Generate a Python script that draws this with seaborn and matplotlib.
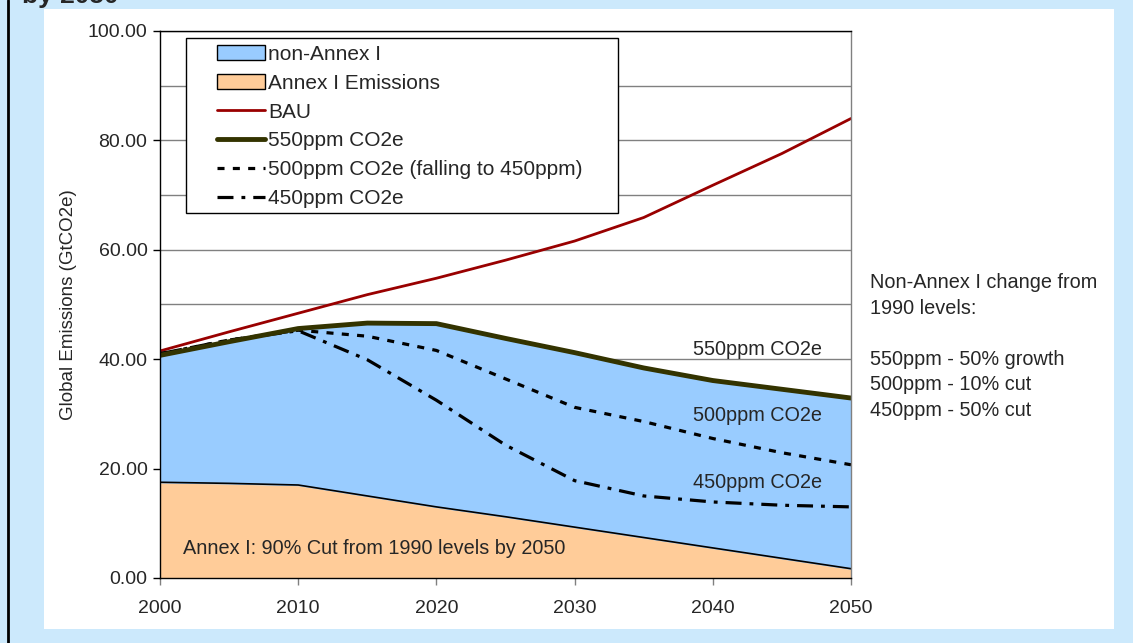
import matplotlib
matplotlib.use("Agg")
import matplotlib.pyplot as plt
import matplotlib.patches as mpatches
from matplotlib.lines import Line2D
import pandas as pd
import seaborn as sns

# data (GtCO2e)
years = [2000, 2005, 2010, 2015, 2020, 2025, 2030, 2035, 2040, 2045, 2050]
bau = [41.5, 45.0, 48.4, 51.8, 54.8, 58.1, 61.6, 65.9, 71.8, 77.6, 84.0]
ppm550 = [40.7, 43.2, 45.6, 46.6, 46.5, 43.8, 41.2, 38.4, 36.1, 34.5, 32.9]
ppm500 = [41.0, 43.5, 45.3, 44.2, 41.6, 36.4, 31.2, 28.6, 25.5, 22.9, 20.7]
ppm450 = [41.0, 43.5, 45.2, 39.9, 32.5, 24.3, 17.8, 15.0, 13.9, 13.3, 13.0]
annex1 = [17.5, 17.3, 17.0, 15.0, 13.0, 11.2, 9.3, 7.4, 5.5, 3.6, 1.7]

df = pd.DataFrame({"year": years, "BAU": bau, "550": ppm550,
                   "500": ppm500, "450": ppm450, "annex": annex1})

sns.set_style("white")
plt.rcParams["font.family"] = ["Liberation Sans", "DejaVu Sans"]
FS = 14.3

fig = plt.figure(figsize=(11.33, 6.43), dpi=100)
fig.patch.set_facecolor("#cce9fc")
# white panel + left border line
panel = mpatches.Rectangle((0.0388, 0.0218), 0.9444, 0.9642, transform=fig.transFigure,
                           facecolor="white", edgecolor="none", zorder=-5)
fig.add_artist(panel)
fig.add_artist(Line2D([0.0075, 0.0075], [0, 1], transform=fig.transFigure,
                      color="black", lw=2, zorder=-4))
fig.text(0.0195, 0.995, "by 2050", fontsize=19, fontweight="bold", va="baseline")

ax = fig.add_axes([0.1412, 0.1011, 0.6099, 0.8507])
ax.set_zorder(1)
ax.set_facecolor("white")

# stacked areas
ax.fill_between(df["year"], 0, df["annex"], color="#ffcc99", zorder=2)
ax.fill_between(df["year"], df["annex"], df["550"], color="#99ccff", zorder=2)
sns.lineplot(data=df, x="year", y="annex", color="black", lw=1.2, ax=ax, zorder=3)

sns.lineplot(data=df, x="year", y="BAU", color="#990000", lw=2, ax=ax, zorder=4)
sns.lineplot(data=df, x="year", y="500", color="black", lw=2.3, ax=ax, zorder=4,
             linestyle=(0, (2.2, 2.6)))
sns.lineplot(data=df, x="year", y="450", color="black", lw=2.3, ax=ax, zorder=4,
             linestyle=(0, (5, 2.5, 1.2, 2.5)))
sns.lineplot(data=df, x="year", y="550", color="#333300", lw=3.5, ax=ax, zorder=5)

ax.set_xlim(2000, 2050)
ax.set_ylim(0, 100)
ax.set_xticks(range(2000, 2051, 10))
ax.set_yticks(range(0, 101, 20))
ax.set_yticks(range(0, 101, 10), minor=True)
ax.set_yticklabels([f"{v:.2f}" for v in range(0, 101, 20)])
ax.grid(axis="y", which="both", color="#808080", lw=1, zorder=1)
ax.set_axisbelow(True)
ax.tick_params(axis="y", which="major", labelsize=14, direction="out",
               length=5, width=1, color="black", left=True, pad=4)
ax.tick_params(axis="x", which="major", labelsize=14, direction="out",
               length=5, width=1, color="#808080", bottom=True, pad=11)
ax.tick_params(axis="y", which="minor", length=0)
ax.set_xlabel("")
ax.set_ylabel("Global Emissions (GtCO2e)", fontsize=13.5, labelpad=8)
for side in ["left", "bottom", "top"]:
    ax.spines[side].set_color("black")
ax.spines["right"].set_color("#808080")
for s in ax.spines.values():
    s.set_linewidth(1)
    s.set_zorder(6)

# inline labels
ax.text(2047.9, 40.1, "550ppm CO2e", fontsize=FS, ha="right", va="bottom", zorder=7)
ax.text(2047.9, 28.0, "500ppm CO2e", fontsize=FS, ha="right", va="bottom", zorder=7)
ax.text(2047.9, 15.7, "450ppm CO2e", fontsize=FS, ha="right", va="bottom", zorder=7)
ax.text(2001.7, 3.7, "Annex I: 90% Cut from 1990 levels by 2050", fontsize=FS,
        ha="left", va="bottom", zorder=7)

fig.text(0.768, 0.575, "Non-Annex I change from\n1990 levels:\n\n550ppm - 50% growth\n"
         "500ppm - 10% cut\n450ppm - 50% cut", fontsize=FS, va="top", ha="left",
         linespacing=1.43)

# legend: frame drawn separately (wider side padding than top/bottom)
ax.add_patch(mpatches.Rectangle((0.0376, 0.6673), 0.6252, 0.3199, transform=ax.transAxes,
                                facecolor="white", edgecolor="black", lw=1, zorder=7))
handles = [
    mpatches.Patch(facecolor="#99ccff", edgecolor="black", lw=1, label="non-Annex I"),
    mpatches.Patch(facecolor="#ffcc99", edgecolor="black", lw=1, label="Annex I Emissions"),
    Line2D([], [], color="#990000", lw=2, label="BAU"),
    Line2D([], [], color="#333300", lw=3.5, label="550ppm CO2e"),
    Line2D([], [], color="black", lw=2.3, linestyle=(0, (2.2, 2.6)),
           label="500ppm CO2e (falling to 450ppm)"),
    Line2D([], [], color="black", lw=2.3, linestyle=(0, (5, 2.5, 1.2, 2.5)),
           label="450ppm CO2e"),
]
leg = ax.legend(handles=handles, loc="upper left", bbox_to_anchor=(0.0825, 0.9745),
                borderaxespad=0, borderpad=0, fontsize=15, frameon=False,
                handlelength=2.3, handletextpad=0.14, labelspacing=0.47)
leg.set_zorder(8)

fig.savefig("out.png", dpi=100, facecolor=fig.get_facecolor())
